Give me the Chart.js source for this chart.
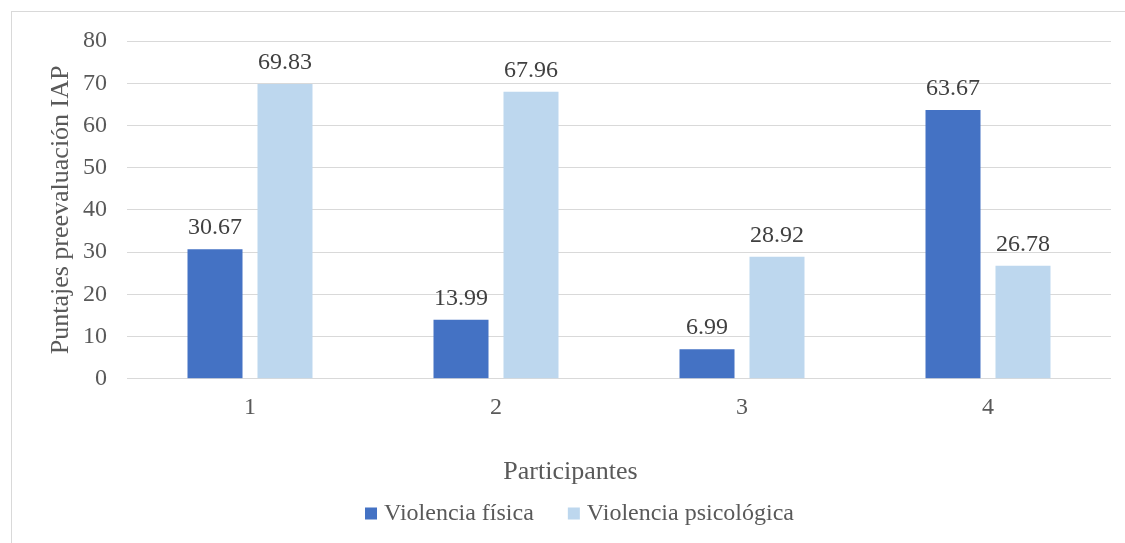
<!DOCTYPE html>
<html>
<head>
<meta charset="utf-8">
<script src="https://cdn.jsdelivr.net/npm/chart.js@4"></script>
<style>
  body { margin: 0; background: #fff; }
  #wrap { position: relative; width: 1125px; height: 543px; overflow: hidden; }
  #frame { position: absolute; left: 11px; top: 11px; width: 1200px; height: 600px;
           border-top: 1px solid #d9d9d9; border-left: 1px solid #d9d9d9; }
  canvas { position: absolute; left: 0; top: 0; }
</style>
</head>
<body>
<div id="wrap">
  <div id="frame"></div>
  <canvas id="myBarChart" width="1125" height="543"></canvas>
</div>
<script>
const participantes = ["1", "2", "3", "4"];
const violenciaFisica = [30.67, 13.99, 6.99, 63.67];
const violenciaPsicologica = [69.83, 67.96, 28.92, 26.78];
const yTicks = [0, 10, 20, 30, 40, 50, 60, 70, 80];

const serif = "'Liberation Serif', 'Times New Roman', serif";
const textColor = "#595959";

// labels above each bar
const valueLabels = {
  id: "valueLabels",
  afterDatasetsDraw(chart) {
    const ctx = chart.ctx;
    ctx.save();
    ctx.font = "24px " + serif;
    ctx.fillStyle = "#404040";
    ctx.textAlign = "center";
    ctx.textBaseline = "alphabetic";
    chart.data.datasets.forEach((ds, i) => {
      chart.getDatasetMeta(i).data.forEach((bar, j) => {
        ctx.fillText(ds.data[j].toFixed(2), bar.x, bar.y - 15);
      });
    });
    ctx.restore();
  },
};

// legend drawn by hand, Excel-like spacing (box 12, gap 7, 34 between items)
const bottomLegend = {
  id: "bottomLegend",
  afterDraw(chart) {
    const ctx = chart.ctx;
    const box = 12, gap = 7, itemGap = 34;
    const y = 513.5;
    ctx.save();
    ctx.font = "24px " + serif;
    const items = chart.data.datasets.map((ds) => ({
      text: ds.label,
      color: ds.backgroundColor,
      w: ctx.measureText(ds.label).width,
    }));
    let total = items.reduce((s, it) => s + box + gap + it.w, 0) + itemGap * (items.length - 1);
    let x = 579.5 - total / 2;
    ctx.textBaseline = "middle";
    ctx.textAlign = "left";
    items.forEach((it) => {
      ctx.fillStyle = it.color;
      ctx.fillRect(x, y - box / 2, box, box);
      x += box + gap;
      ctx.fillStyle = textColor;
      ctx.fillText(it.text, x, y);
      x += it.w + itemGap;
    });
    ctx.restore();
  },
};

const config = {
  type: "bar",
  data: {
    labels: participantes,
    datasets: [
      {
        label: "Violencia física",
        data: violenciaFisica,
        backgroundColor: "#4472C4",
        categoryPercentage: 0.569,
        barPercentage: 0.786,
      },
      {
        label: "Violencia psicológica",
        data: violenciaPsicologica,
        backgroundColor: "#BDD7EE",
        categoryPercentage: 0.569,
        barPercentage: 0.786,
      },
    ],
  },
  options: {
    responsive: false,
    animation: false,
    layout: { padding: { left: 30, right: 14, top: 41, bottom: 55 } },
    scales: {
      x: {
        grid: { display: false },
        border: { display: false },
        ticks: { color: textColor, font: { family: serif, size: 24 }, padding: 7 },
        afterFit: (scale) => { scale.height = 43; },
      },
      y: {
        min: 0,
        max: 80,
        afterBuildTicks: (scale) => { scale.ticks = yTicks.map((v) => ({ value: v })); },
        grid: { color: "#d9d9d9", lineWidth: 1, drawTicks: false },
        border: { display: false },
        ticks: { color: textColor, font: { family: serif, size: 24 }, padding: 20 },
        title: {
          display: true,
          text: "Puntajes preevaluación IAP",
          color: textColor,
          font: { family: serif, size: 26 },
          padding: { top: 16, bottom: 0 },
        },
        afterFit: (scale) => { scale.width = 97; },
      },
    },
    plugins: {
      title: {
        display: true,
        text: "Participantes",
        position: "bottom",
        color: textColor,
        font: { family: serif, size: 26, weight: "normal" },
        padding: { top: 35, bottom: 0 },
      },
      legend: { display: false },
      tooltip: { enabled: false },
    },
  },
  plugins: [valueLabels, bottomLegend],
};

const barChart = new Chart(document.querySelector("#myBarChart"), config);
</script>
</body>
</html>
